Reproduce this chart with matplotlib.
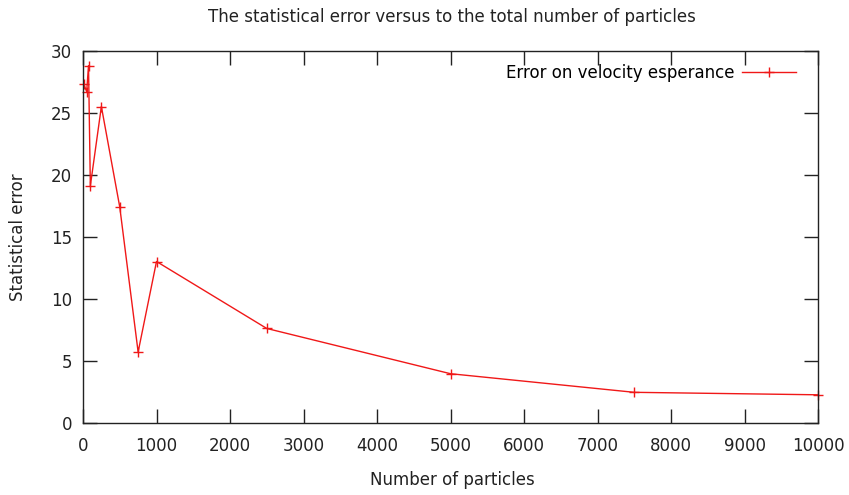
import matplotlib
matplotlib.use("Agg")
import matplotlib.pyplot as plt

particles = [10, 50, 75, 100, 250, 500, 750, 1000, 2500, 5000, 7500, 10000]
errors = [27.3, 26.7, 28.8, 19.1, 25.5, 17.4, 5.7, 13.0, 7.6, 3.95, 2.45, 2.25]
x_ticks = list(range(0, 10001, 1000))
y_ticks = list(range(0, 31, 5))

plt.rcParams['font.family'] = ['DejaVu Sans']
fig = plt.figure(figsize=(8.49, 4.95), dpi=100)
L, R, T, B = 83, 818, 50.7, 422.7
ax = fig.add_axes([L/849, 1 - B/495, (R-L)/849, (B-T)/495])

ax.plot(particles, errors, color='#f01818', lw=1.0, marker='+', ms=7, mew=1.0,
        label='Error on velocity esperance', clip_on=False)
ax.set_xlim(0, 10000)
ax.set_ylim(0, 30)
ax.set_xticks(x_ticks)
ax.set_yticks(y_ticks)
ax.tick_params(direction='in', length=10, width=1, top=True, right=True,
               labelsize=12, colors='#222222')
ax.tick_params(axis='x', pad=10)
ax.tick_params(axis='y', pad=8)
for s in ax.spines.values():
    s.set_linewidth(1.0)
    s.set_color('#222222')

fig.text(452/849, 1 - 17/495, 'The statistical error versus to the total number of particles',
         ha='center', va='center', fontsize=12, color='#222222')
fig.text(452/849, 1 - 480/495, 'Number of particles', ha='center', va='center',
         fontsize=12, color='#222222')
fig.text(18/849, 1 - 237/495, 'Statistical error', ha='center', va='center',
         rotation=90, fontsize=12, color='#222222')

ax.legend(loc='upper right', frameon=False, markerfirst=False, fontsize=12,
          handlelength=3.2, handletextpad=0.5, borderaxespad=0.4,
          bbox_to_anchor=(1 - 9/735, 1))

fig.savefig('out.png', dpi=100)
